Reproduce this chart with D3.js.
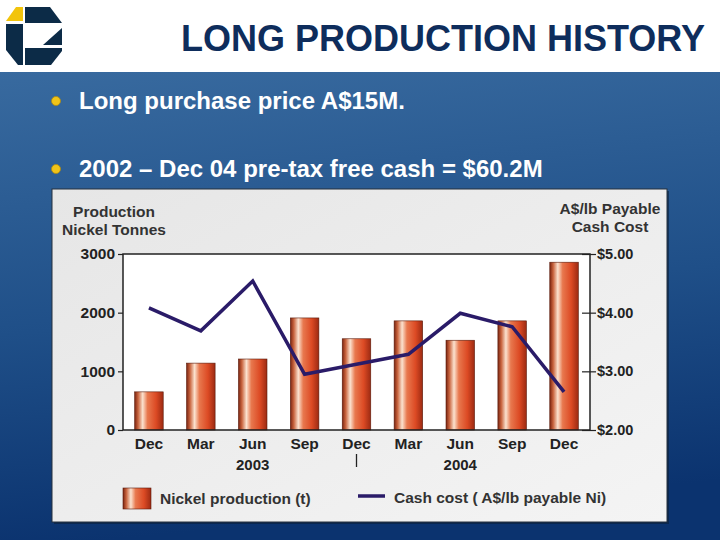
<!DOCTYPE html>
<html>
<head>
<meta charset="utf-8">
<script src="https://cdn.jsdelivr.net/npm/d3@7"></script>
<style>
  body { margin: 0; background: #fff; }
  svg { display: block; font-family: "Liberation Sans", Arial, sans-serif; }
</style>
</head>
<body>
<div id="slide"></div>
<script>
// quarterly data, Dec 2002 - Dec 2004
const periods = ["Dec 02", "Mar 03", "Jun 03", "Sep 03", "Dec 03", "Mar 04", "Jun 04", "Sep 04", "Dec 04"]
const production = [650, 1140, 1210, 1910, 1555, 1860, 1530, 1860, 2860]
const cashCost = [4.08, 3.69, 4.54, 2.95, 3.12, 3.29, 3.99, 3.76, 2.65]
const leftTicks = [0, 1000, 2000, 3000]
const rightTicks = [2, 3, 4, 5]
const yearLabels = ["2003", "2004"]
const yearAt = ["Jun 03", "Jun 04"]
const yearBreak = "Dec 03"
const bullets = ["Long purchase price A$15M.", "2002 \u2013 Dec 04 pre-tax free cash = $60.2M"]

const W = 720, H = 540
const svg = d3.select("#slide").append("svg").attr("width", W).attr("height", H)
const defs = svg.append("defs")

let bg = defs.append("linearGradient").attr("id", "bg").attr("x1", 0).attr("y1", 0).attr("x2", 0.15).attr("y2", 1)
bg.append("stop").attr("offset", "0%").attr("stop-color", "#386a9f")
bg.append("stop").attr("offset", "55%").attr("stop-color", "#1f4f88")
bg.append("stop").attr("offset", "100%").attr("stop-color", "#0b336f")

let panel = defs.append("linearGradient").attr("id", "panel").attr("x1", 0).attr("y1", 0).attr("x2", 1).attr("y2", 1)
panel.append("stop").attr("offset", "0%").attr("stop-color", "#e6e6e6")
panel.append("stop").attr("offset", "100%").attr("stop-color", "#f4f4f4")

let bar = defs.append("linearGradient").attr("id", "bar").attr("x1", 0).attr("y1", 0).attr("x2", 1).attr("y2", 0)
bar.append("stop").attr("offset", "0%").attr("stop-color", "#7a2410")
bar.append("stop").attr("offset", "12%").attr("stop-color", "#c9643e")
bar.append("stop").attr("offset", "28%").attr("stop-color", "#fbe2cf")
bar.append("stop").attr("offset", "45%").attr("stop-color", "#e8784e")
bar.append("stop").attr("offset", "75%").attr("stop-color", "#dc4a24")
bar.append("stop").attr("offset", "100%").attr("stop-color", "#9c2a12")

// header + blue body
svg.append("rect").attr("width", W).attr("height", 72).attr("fill", "#fff")
svg.append("rect").attr("y", 72).attr("width", W).attr("height", H - 72).attr("fill", "url(#bg)")

// logo
const logo = svg.append("g").attr("fill", "#0c2b47")
logo.append("path").attr("d", "M6,21 L16,7 L23,7 L23,21 Z").attr("fill", "#f2c40c")
logo.append("path").attr("d", "M25,7 L50,7 L62,23 L25,23 Z")
logo.append("path").attr("d", "M6,24 L23,24 L23,65 L18,65 L6,50 Z")
logo.append("path").attr("d", "M43,45 L62,28 L62,45 Z")
logo.append("path").attr("d", "M25,48 L62,48 L62,51 L51,65 L25,65 Z")

svg.append("text").attr("x", 705).attr("y", 51).attr("text-anchor", "end")
    .attr("font-size", 36).attr("font-weight", "bold").attr("fill", "#0e2d5c")
    .text("LONG PRODUCTION HISTORY")

// bullets
bullets.forEach((b, i) => {
    let y = 101 + i * 68
    svg.append("circle").attr("cx", 56).attr("cy", y).attr("r", 4.5)
        .attr("fill", "#f0c419").attr("stroke", "#b08a10").attr("stroke-width", 0.8)
    svg.append("text").attr("x", 79).attr("y", y + 8).attr("font-size", 24).attr("font-weight", "bold")
        .attr("fill", "#fff").text(b)
})

// chart panel
svg.append("rect").attr("x", 54).attr("y", 191).attr("width", 615).attr("height", 333).attr("fill", "#0a1f3a").attr("opacity", 0.6)
svg.append("rect").attr("x", 52).attr("y", 189).attr("width", 615).attr("height", 333)
    .attr("fill", "url(#panel)").attr("stroke", "#26313d").attr("stroke-width", 1)

const plot = {left: 123, right: 590, top: 254, bottom: 430}

let x = d3.scaleBand().domain(periods).range([plot.left, plot.right]).padding(0)
let yL = d3.scaleLinear().domain([0, 3000]).range([plot.bottom, plot.top])
let yR = d3.scaleLinear().domain([2, 5]).range([plot.bottom, plot.top])

svg.append("rect").attr("x", plot.left).attr("y", plot.top)
    .attr("width", plot.right - plot.left).attr("height", plot.bottom - plot.top)
    .attr("fill", "#fff")

const barW = x.bandwidth() * 0.55
svg.selectAll(".bar")
    .data(production)
    .enter().append("rect")
    .attr("class", "bar")
    .attr("x", (d, i) => x(periods[i]) + (x.bandwidth() - barW) / 2)
    .attr("width", barW)
    .attr("y", d => yL(d))
    .attr("height", d => yL(0) - yL(d))
    .attr("fill", "url(#bar)")
    .attr("stroke", "#5a1a0a").attr("stroke-width", 0.6)

let line = d3.line()
    .x((d, i) => x(periods[i]) + x.bandwidth() / 2)
    .y(d => yR(d))

svg.append("path").datum(cashCost)
    .attr("d", line)
    .attr("fill", "none")
    .attr("stroke", "#2a1b68")
    .attr("stroke-width", 3.5)
    .attr("stroke-linejoin", "miter")

svg.append("rect").attr("x", plot.left).attr("y", plot.top)
    .attr("width", plot.right - plot.left).attr("height", plot.bottom - plot.top)
    .attr("fill", "none").attr("stroke", "#222").attr("stroke-width", 1.5)

// axes
let leftAxis = svg.append("g").attr("transform", `translate(${plot.left},0)`)
    .call(d3.axisLeft(yL).tickValues(leftTicks).tickSize(5).tickPadding(3).tickFormat(d3.format("d")))
let rightAxis = svg.append("g").attr("transform", `translate(${plot.right},0)`)
    .call(d3.axisRight(yR).tickValues(rightTicks).tickSize(6).tickPadding(1).tickFormat(d3.format("$.2f")))
let bottomAxis = svg.append("g").attr("transform", `translate(0,${plot.bottom})`)
    .call(d3.axisBottom(x).tickSize(0).tickPadding(8).tickFormat(d => d.split(" ")[0]))

;[leftAxis, rightAxis, bottomAxis].forEach(g => {
    g.select(".domain").remove()
    g.selectAll(".tick line").attr("stroke", "#222").attr("stroke-width", 1.2)
    g.selectAll(".tick text").attr("font-family", "Liberation Sans, Arial, sans-serif")
        .attr("font-weight", "bold").attr("fill", "#222")
})
rightAxis.selectAll(".tick line").attr("x1", -8)
leftAxis.selectAll(".tick text").attr("font-size", 15.5)
rightAxis.selectAll(".tick text").attr("font-size", 14.5)
bottomAxis.selectAll(".tick text").attr("font-size", 15.5)

// year labels and break marker
yearLabels.forEach((label, i) => {
    svg.append("text").attr("x", x(yearAt[i]) + x.bandwidth() / 2).attr("y", 470)
        .attr("text-anchor", "middle").attr("font-size", 15).attr("font-weight", "bold")
        .attr("fill", "#222").text(label)
})
svg.append("line")
    .attr("x1", x(yearBreak) + x.bandwidth() / 2).attr("x2", x(yearBreak) + x.bandwidth() / 2)
    .attr("y1", 454).attr("y2", 467).attr("stroke", "#222").attr("stroke-width", 1.3)

// axis titles
const axisTitle = (lines, cx, y0) => lines.forEach((t, i) =>
    svg.append("text").attr("x", cx).attr("y", y0 + i * 18).attr("text-anchor", "middle")
        .attr("font-size", 15.5).attr("font-weight", "bold").attr("fill", "#333").text(t))
axisTitle(["Production", "Nickel Tonnes"], 114, 217)
axisTitle(["A$/lb Payable", "Cash Cost"], 610, 214)

// legend
svg.append("rect").attr("x", 123).attr("y", 488).attr("width", 28).attr("height", 21)
    .attr("fill", "url(#bar)").attr("stroke", "#5a1a0a").attr("stroke-width", 0.6)
svg.append("text").attr("x", 160).attr("y", 504).attr("font-size", 15.5).attr("font-weight", "bold")
    .attr("fill", "#333").text("Nickel production (t)")
svg.append("line").attr("x1", 358).attr("x2", 385).attr("y1", 496).attr("y2", 496)
    .attr("stroke", "#2a1b68").attr("stroke-width", 3.5)
svg.append("text").attr("x", 394).attr("y", 503).attr("font-size", 15.5).attr("font-weight", "bold")
    .attr("fill", "#333").text("Cash cost ( A$/lb payable Ni)")
</script>
</body>
</html>
